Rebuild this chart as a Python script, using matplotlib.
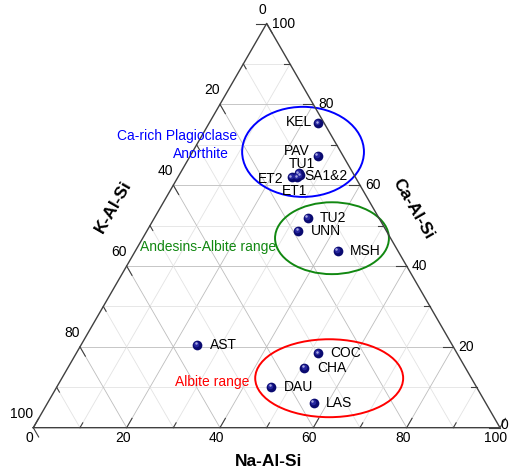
import numpy as np
import matplotlib
matplotlib.use('Agg')
import matplotlib.pyplot as plt
from matplotlib.patches import Ellipse

plt.rcParams['font.family'] = ['Liberation Sans', 'DejaVu Sans']

# sample compositions (%), Na-Al-Si / K-Al-Si / Ca-Al-Si
names = ['KEL', 'PAV', 'TU1', 'SA1&2', 'ET2', 'ET1', 'TU2', 'UNN', 'MSH',
         'AST', 'COC', 'CHA', 'DAU', 'LAS']
na = [23.4, 27.3, 25.4, 26.0, 24.4, 25.5, 32.8, 32.4, 43.3, 24.9, 51.8, 50.7, 45.9, 57.0]
k = [1.3, 5.4, 11.6, 11.6, 13.6, 12.5, 15.2, 18.9, 12.9, 54.6, 29.8, 34.5, 44.0, 36.8]
ca = [75.3, 67.3, 63.0, 62.4, 62.0, 62.0, 52.0, 48.7, 43.8, 20.5, 18.4, 14.8, 10.1, 6.2]

# label placement: (dx, dy) in pixels, horizontal alignment
lab_pos = {'KEL': (-6.5, 1, 'right'), 'PAV': (-8.5, 5, 'right'),
           'TU1': (3.5, 9.5, 'center'), 'SA1&2': (4, -1, 'left'),
           'ET2': (-8.5, -1.5, 'right'), 'ET1': (-2, -13.5, 'center')}

ticks = [0, 20, 40, 60, 80, 100]
S3 = np.sqrt(3) / 2.0
PX = 4.667  # pixels per data unit


def tern(a, b, c):
    # a: Na (right vertex), b: K (left vertex), c: Ca (top vertex)
    a = np.asarray(a, float); b = np.asarray(b, float); c = np.asarray(c, float)
    t = a + b + c
    a = a / t * 100; c = c / t * 100
    return a + c / 2.0, c * S3


fig = plt.figure(figsize=(5.09, 4.71), dpi=100)
ax = fig.add_axes([0, 0, 1, 1])
ax.set_xlim(-7.135, 101.93)
ax.set_ylim(-9.28, 91.64)
ax.axis('off')

# grid lines
for v in range(10, 100, 10):
    col = '#bdbdbd' if v % 20 == 0 else '#e3e3e3'
    lines = [tern([0, 100 - v], [100 - v, 0], [v, v]),      # const Ca
             tern([v, v], [100 - v, 0], [0, 100 - v]),      # const Na
             tern([100 - v, 0], [v, v], [0, 100 - v])]      # const K
    for gx, gy in lines:
        ax.plot(gx, gy, color=col, lw=0.6, zorder=1)

# triangle frame
fx, fy = tern([0, 100, 0, 0], [100, 0, 0, 100], [0, 0, 100, 0])
ax.plot(fx, fy, color='#404040', lw=1.0, zorder=3)

# ticks along each axis' grid direction
for v in range(0, 101, 10):
    L = 2.3 if v % 20 == 0 else 1.2
    x, y = tern(v, 100 - v, 0)
    ax.plot([x, x + 0.5 * L], [y, y + S3 * L], color='#404040', lw=0.8, zorder=3)
    x, y = tern(0, v, 100 - v)
    ax.plot([x, x + 0.5 * L], [y, y - S3 * L], color='#404040', lw=0.8, zorder=3)
    x, y = tern(100 - v, 0, v)
    ax.plot([x, x - L], [y, y], color='#404040', lw=0.8, zorder=3)

# tick labels
for v in ticks:
    x, y = tern(v, 100 - v, 0)
    ax.text(x - 4 / PX, y - 10.5 / PX, str(v), ha='center', va='center', fontsize=10)
    x, y = tern(0, v, 100 - v)
    ax.text(x, y + 14 / PX, str(v), ha='right', va='center', fontsize=10)
    x, y = tern(100 - v, 0, v)
    if v == 0:
        ax.text(x + 1 / PX, y + 3 / PX, str(v), ha='left', va='center', fontsize=10)
    else:
        ax.text(x + 5 / PX, y, str(v), ha='left', va='center', fontsize=10)

# axis titles
ax.text(50.5, -7.3, 'Na-Al-Si', ha='center', va='center', fontsize=12.5, fontweight='bold')
ax.text(17.2, 47.3, 'K-Al-Si', ha='center', va='center', fontsize=12.5, fontweight='bold', rotation=60)
ax.text(81.3, 46.9, 'Ca-Al-Si', ha='center', va='center', fontsize=12.5, fontweight='bold', rotation=-60)

# field ellipses
ax.add_patch(Ellipse((57.8, 59.1), 26.1, 19.3, fill=False, ec='#0000ff', lw=1.4, zorder=2))
ax.add_patch(Ellipse((64.0, 40.6), 24.4, 15.4, fill=False, ec='#118811', lw=1.4, zorder=2))
ax.add_patch(Ellipse((63.4, 10.6), 31.7, 16.7, fill=False, ec='#ff0000', lw=1.4, zorder=2))

ax.text(30.9, 62.5, 'Ca-rich Plagioclase', color='#0000ff', ha='center', va='center', fontsize=10)
ax.text(36.0, 58.6, 'Anorthite', color='#0000ff', ha='center', va='center', fontsize=10)
ax.text(37.5, 38.7, 'Andesins-Albite range', color='#118811', ha='center', va='center', fontsize=10)
ax.text(38.4, 9.8, 'Albite range', color='#ff0000', ha='center', va='center', fontsize=10)

# sample points, shaded to look like spheres
px, py = tern(na, k, ca)
ax.plot(px, py, 'o', ms=7, color='#0a0a70', mec='none', zorder=5)
ax.plot(px - 0.2, py + 0.2, 'o', ms=4, color='#25259e', mec='none', zorder=6)
ax.plot(px - 0.3, py + 0.3, 'o', ms=1.8, color='#a8a8e0', mec='none', zorder=7)

for i, nm in enumerate(names):
    dx, dy, ha = lab_pos.get(nm, (12.5, 0, 'left'))
    ax.annotate(nm, (px[i], py[i]), xytext=(dx * 0.72, dy * 0.72), textcoords='offset points',
                ha=ha, va='center', fontsize=10, zorder=8)

fig.savefig('out.png', dpi=100)
